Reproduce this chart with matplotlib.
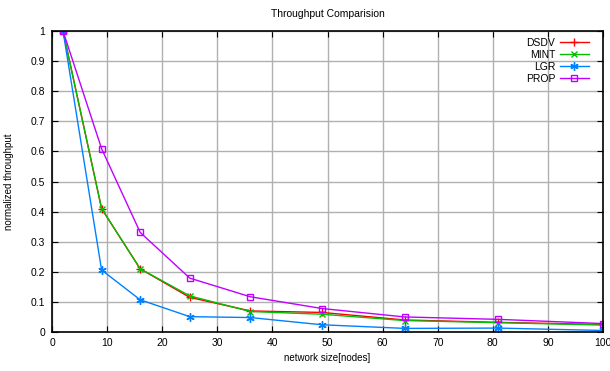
import matplotlib
matplotlib.use("Agg")
import matplotlib.pyplot as plt

plt.rcParams['font.family'] = ['Liberation Sans', 'DejaVu Sans']

# data (network size vs normalized throughput)
nodes = [2, 9, 16, 25, 36, 49, 64, 81, 100]
dsdv = [1.0, 0.41, 0.21, 0.115, 0.07, 0.065, 0.04, 0.032, 0.025]
mint = [1.0, 0.41, 0.21, 0.12, 0.068, 0.059, 0.038, 0.031, 0.023]
lgr = [1.0, 0.206, 0.107, 0.051, 0.048, 0.024, 0.012, 0.013, 0.005]
prop = [1.0, 0.609, 0.331, 0.179, 0.117, 0.078, 0.05, 0.042, 0.028]

fig = plt.figure(figsize=(6.1, 3.71), dpi=100)
ax = fig.add_axes([52/610, 39/371, 551/610, 301/371])

ax.plot(nodes, dsdv, color='#ff0000', marker='+', ms=6, lw=1, label='DSDV')
ax.plot(nodes, mint, color='#00c000', marker='x', ms=5, lw=1, label='MINT')
ax.plot(nodes, lgr, color='#0080ff', marker=(6, 2, 0), ms=6, lw=1, label='LGR')
ax.plot(nodes, prop, color='#c000ff', marker='s', ms=5, mfc='none', lw=1, label='PROP')

ax.set_xlim(0, 100)
ax.set_ylim(0, 1)
ax.set_xticks(range(0, 101, 10))
ax.set_yticks([i / 10 for i in range(11)])
ax.set_yticklabels(['0', '0.1', '0.2', '0.3', '0.4', '0.5', '0.6', '0.7', '0.8', '0.9', '1'])
ax.grid(True, color='#b0b0b0', lw=1)
ax.set_axisbelow(True)
ax.tick_params(direction='in', top=True, right=True, labelsize=7.5, length=4)
ax.tick_params(axis='y', pad=5)
ax.tick_params(axis='x', pad=4)
for s in ax.spines.values():
    s.set_linewidth(1.2)

ax.set_title('Throughput Comparision', fontsize=7.5, pad=10)
ax.set_xlabel('network size[nodes]', fontsize=7)
ax.set_ylabel('normalized throughput', fontsize=7, labelpad=12)

ax.legend(loc='upper right', bbox_to_anchor=(1 - 6/551, 1.005), frameon=False,
          markerfirst=False, fontsize=7.5, handlelength=2.8, labelspacing=0.2,
          borderaxespad=0.4, handletextpad=0.4)

fig.savefig('out.png', dpi=100)
